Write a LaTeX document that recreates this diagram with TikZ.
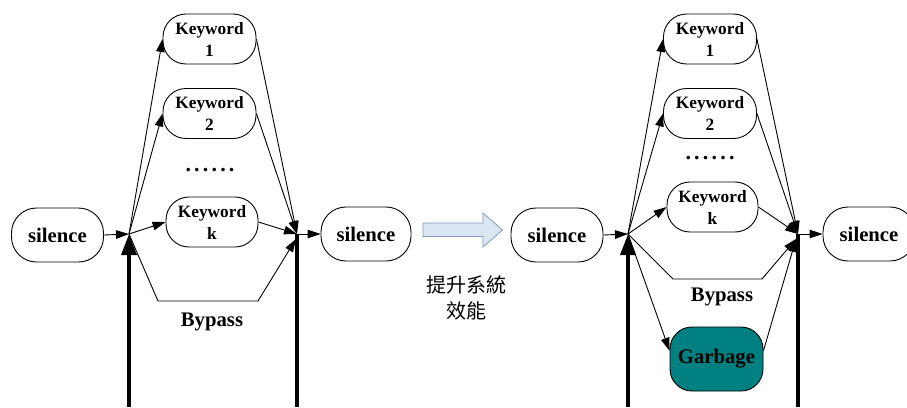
\documentclass[tikz,border=0pt]{standalone}
\usepackage{fontspec}
\setmainfont{Liberation Serif}
\newfontfamily\cjkfont{Noto Sans CJK TC}
\usetikzlibrary{arrows.meta,calc}
\definecolor{garbfill}{RGB}{0,128,128}
\definecolor{bigfill}{RGB}{220,230,242}
\definecolor{bigline}{RGB}{130,155,190}
\tikzset{
  kw/.style={draw, line width=0.9pt, rounded corners=23pt, minimum width=93pt, minimum height=50pt,
    inner sep=0pt, align=center, font=\fontsize{17.3}{22}\selectfont\bfseries},
  sil/.style={draw, line width=0.9pt, rounded corners=25pt, minimum width=92pt, minimum height=54pt,
    inner sep=0pt, font=\fontsize{20.7}{24}\selectfont\bfseries},
  lbl/.style={font=\fontsize{20.7}{24}\selectfont\bfseries, inner sep=0pt},
  dotsl/.style={font=\fontsize{22}{24}\selectfont\bfseries, inner sep=0pt},
  arr/.style={line width=0.9pt, -{Triangle[length=13pt,width=8.5pt]}},
  thickln/.style={line width=3.6pt},
  thickarr/.style={line width=3.6pt, -{Triangle[length=21pt,width=15pt]}},
}
\newcommand{\sixdots}{.\kern3.2pt.\kern3.2pt.\kern3.2pt.\kern3.2pt.\kern3.2pt.}
\begin{document}
\begin{tikzpicture}[x=1pt,y=-1pt]
\useasboundingbox (0,0) rectangle (907,407);
\fill[white] (0,0) rectangle (907,407);

% ---------------- left diagram ----------------
\coordinate (J1) at (129,234);
\coordinate (J2) at (297,234);
\coordinate (J2b) at (296,239);
\node[sil] (s1) at (57.5,235) {silence};
\node[sil, minimum width=90pt] (s2) at (366,234) {silence};
\node[kw] (k1) at (209.5,39) {Keyword\\1};
\node[kw] (k2) at (209.5,113.5) {Keyword\\2};
\node[kw, minimum width=92pt] (kk) at (212,222) {Keyword\\k};
\node[dotsl] (d1) at (210,170) {\sixdots};
\coordinate (bp1a) at (158,301);
\coordinate (bp1b) at (258,301);
\node[lbl] (bl1) at (212,322) {Bypass};
\coordinate (T1) at (129,407);
\coordinate (T2) at (297,407);

\draw[arr] (s1.east) -- (J1);
\draw[arr] (J1) -- (k1.west);
\draw[arr] (J1) -- (k2.west);
\draw[arr] (J1) -- (kk.west);
\draw[arr] (k1.east) -- (J2);
\draw[arr] (k2.east) -- (J2);
\draw[arr] (kk.east) -- (J2);
\draw[arr] (J1) -- (bp1a) -- (bp1b) -- (J2b);
\draw[arr] (J2) -- (s2.west);
\draw[thickarr] (T1) -- (J1);
\draw[thickln] (J2) -- (T2);

% ---------------- middle arrow ----------------
\draw[line width=0.8pt, draw=bigline, fill=bigfill]
  (423,223) -- (483,223) -- (483,213) -- (502.5,230) -- (483,247) -- (483,236.5) -- (423,236.5) -- cycle;
\node[font=\fontsize{20}{26}\selectfont\cjkfont, align=center, inner sep=0pt] (cn) at (466,298) {提升系統\\效能};

% ---------------- right diagram ----------------
\coordinate (J3) at (628,234);
\coordinate (J4) at (798,234);
\coordinate (J4b) at (796,239);
\node[sil] (s3) at (557,235) {silence};
\node[sil] (s4) at (869,234) {silence};
\node[kw] (r1) at (710,39) {Keyword\\1};
\node[kw] (r2) at (710,113.5) {Keyword\\2};
\node[kw, minimum width=91pt] (rk) at (712.5,207) {Keyword\\k};
\node[dotsl] (d2) at (710,158) {\sixdots};
\coordinate (bp2a) at (673,279);
\coordinate (bp2b) at (762,279);
\node[lbl] (bl2) at (722,297) {Bypass};
\node[kw, fill=garbfill, minimum height=64pt, rounded corners=22pt, font=\fontsize{20.7}{24}\selectfont\bfseries] (gb) at (716.5,359) {Garbage};
\coordinate (T3) at (628,407);
\coordinate (T4) at (798,407);

\draw[arr] (s3.east) -- (J3);
\draw[arr] (J3) -- (r1.west);
\draw[arr] (J3) -- (r2.west);
\draw[arr] (J3) -- (rk.west);
\draw[arr] (r1.east) -- (J4);
\draw[arr] (r2.east) -- (J4);
\draw[arr] (rk.east) -- (J4);
\draw[arr] (J3) -- (bp2a) -- (bp2b) -- (J4b);
\draw[arr] (J3) -- (gb.170);
\draw[arr] (gb.10) -- (J4b);
\draw[arr] (J4) -- (s4.west);
\draw[thickarr] (T3) -- (J3);
\draw[thickln] (J4) -- (T4);
\end{tikzpicture}
\end{document}
